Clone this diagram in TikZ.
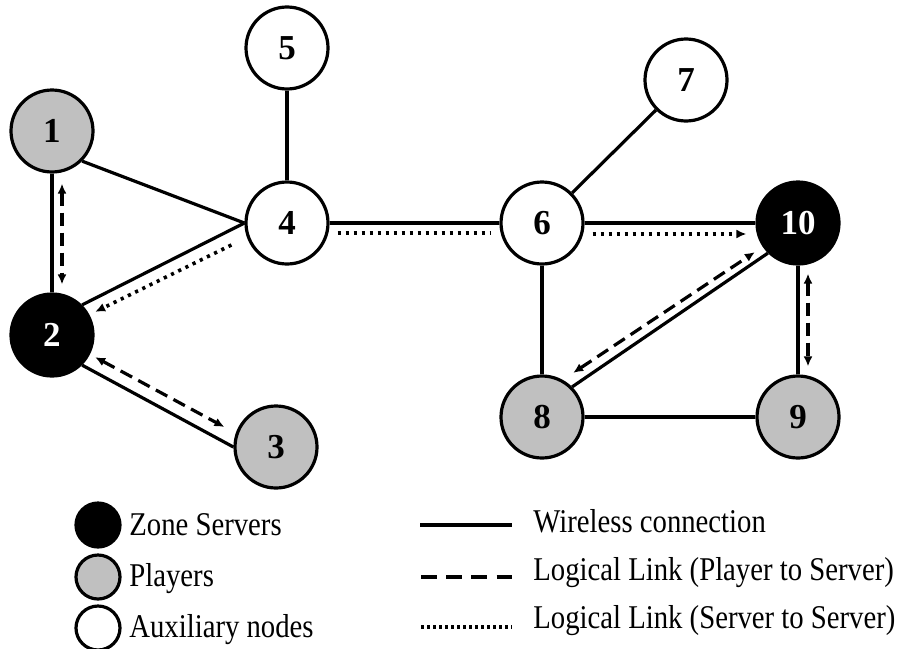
\documentclass[tikz,border=0pt]{standalone}
\usepackage{fontspec}
\setmainfont{Liberation Serif}
\newfontfamily\legendfont[FakeStretch=0.865]{Liberation Serif}
\usetikzlibrary{arrows.meta}
\definecolor{playergray}{RGB}{192,192,192}

\begin{document}
\begin{tikzpicture}[x=0.5pt,y=-0.5pt,
	vertex/.style={circle,draw,line width=1.6pt,minimum size=41pt,inner sep=0pt,font=\fontsize{17.5}{19}\selectfont\bfseries},
	server/.style={vertex,fill=black,text=white},
	player/.style={vertex,fill=playergray},
	aux/.style={vertex,fill=white},
	wire/.style={line width=1.6pt},
	pslink/.style={line width=1.6pt,dash pattern=on 6.5pt off 3.5pt,{Latex[length=5pt,width=4.5pt]}-{Latex[length=5pt,width=4.5pt]}},
	sslink/.style={line width=1.8pt,dash pattern=on 1.6pt off 2.4pt},
	keynode/.style={circle,draw,line width=1.6pt,minimum size=22pt,inner sep=0pt},
	keytext/.style={anchor=base west,inner sep=0pt,font=\legendfont\fontsize{16.6}{18}\selectfont}]
					\useasboundingbox (0,0) rectangle (898,648);
					\node[player] (n1) at (52, 131) {1};
					\node[server] (n2) at (52, 335) {2};
					\node[player] (n3) at (276, 447) {3};
					\node[aux] (n4) at (287, 223) {4};
					\node[aux] (n5) at (287, 48) {5};
					\node[aux] (n6) at (542, 223) {6};
					\node[aux] (n7) at (686, 80) {7};
					\node[player] (n8) at (542, 417) {8};
					\node[player] (n9) at (798, 417) {9};
					\node[server] (n10) at (798, 223) {10};
					\draw[wire] (n1) to (n2);
					\draw[wire] (n1.south east) to (n4.west);
					\draw[wire] (n2.north east) to (n4.west);
					\draw[wire] (n2.south east) to (n3.west);
					\draw[wire] (n4) to (n5);
					\draw[wire] (n4) to (n6);
					\draw[wire] (n6.north east) to (n7.south west);
					\draw[wire] (n6) to (n10);
					\draw[wire] (n6) to (n8);
					\draw[wire] (n8.north east) to (n10.south west);
					\draw[wire] (n8) to (n9);
					\draw[wire] (n9) to (n10);
					\draw[pslink] ([shift={(10,10)}]n1.south) to ([shift={(10,-8)}]n2.north);
					\draw[pslink] ([shift={(13,-8)}]n2.south east) to ([shift={(-9,-20)}]n3.west);
					\draw[pslink] ([shift={(1,-14)}]n8.north east) to ([shift={(-13,-1)}]n10.south west);
					\draw[pslink] ([shift={(10,8)}]n10.south) to ([shift={(10,-8)}]n9.north);
					\draw[sslink,-{Latex[length=5pt,width=4.5pt]}] ([shift={(-13,22)}]n4.west) to ([shift={(13,7)}]n2.north east);
					\draw[sslink] ([shift={(8,10)}]n4.east) to ([shift={(-9,10)}]n6.west);
					\draw[sslink,-{Latex[length=5pt,width=4.5pt]}] ([shift={(8,11)}]n6.east) to ([shift={(-9,11)}]n10.west);
					\node[keynode,fill=black] (ks) at (98, 525) {};
					\node[keynode,fill=playergray] (kp) at (98, 577) {};
					\node[keynode,fill=white] (ka) at (98, 628) {};
					\node[keytext] (ts) at (129, 535) {Zone Servers};
					\node[keytext] (tp) at (129, 586) {Players};
					\node[keytext] (ta) at (129, 637) {Auxiliary nodes};
					\coordinate (wa) at (420, 525);
					\coordinate (wb) at (512, 525);
					\coordinate (pa) at (421, 577);
					\coordinate (pb) at (512, 577);
					\coordinate (sa) at (421, 627);
					\coordinate (sb) at (512, 627);
					\draw[wire] (wa) to (wb);
					\draw[line width=1.8pt,dash pattern=on 8pt off 4.6pt] (pa) to (pb);
					\draw[line width=1.8pt,dash pattern=on 1.5pt off 1.5pt] (sa) to (sb);
					\node[keytext] (tw) at (533, 532) {Wireless connection};
					\node[keytext] (tl) at (533, 580) {Logical Link (Player to Server)};
					\node[keytext] (tv) at (533, 628) {Logical Link (Server to Server)};
				\end{tikzpicture}
\end{document}
